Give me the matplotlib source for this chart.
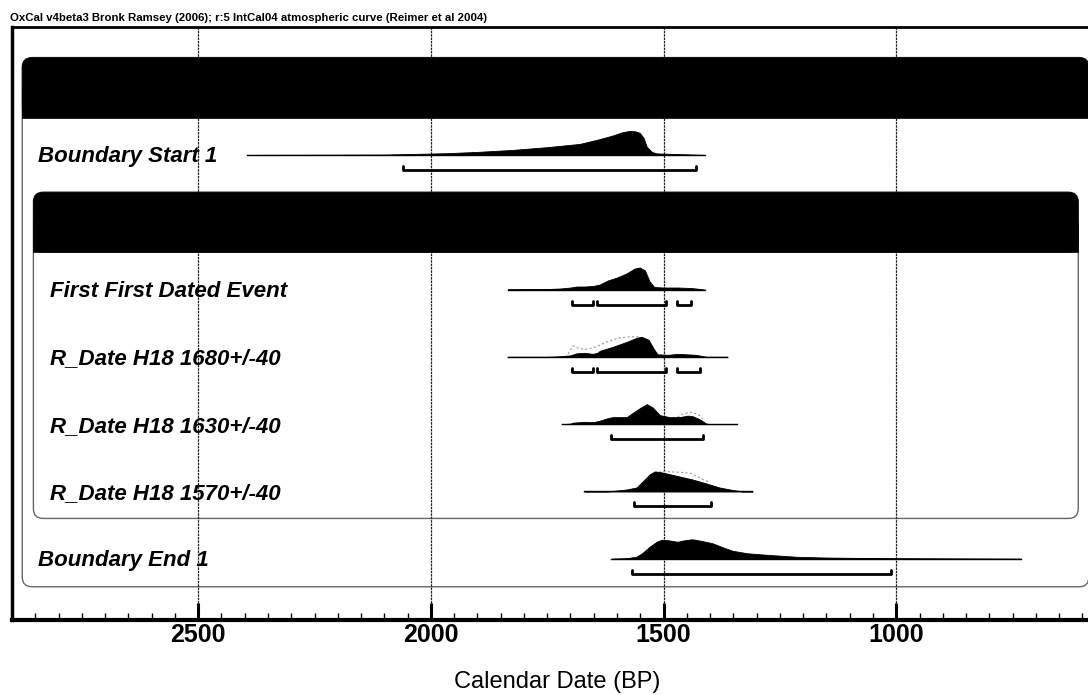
import matplotlib.pyplot as plt
import matplotlib.transforms as mtransforms
from matplotlib.patches import FancyBboxPatch, Rectangle
from matplotlib.ticker import MultipleLocator

plt.rcParams['font.family'] = ['Liberation Sans', 'DejaVu Sans']

TITLE = "OxCal v4beta3 Bronk Ramsey (2006); r:5 IntCal04 atmospheric curve (Reimer et al 2004)"
XLABEL = "Calendar Date (BP)"

# rows, top to bottom (row 1 and -1 are the group headers)
labels = ["Boundary Start 1", "First First Dated Event", "R_Date H18 1680+/-40",
          "R_Date H18 1630+/-40", "R_Date H18 1570+/-40", "Boundary End 1"]
rows = [0, 2, 3, 4, 5, 6]
in_phase = [False, True, True, True, True, False]

# thin baseline of each distribution (cal BP, from -> to)
line_span = [(2395, 1412), (1835, 1412), (1835, 1363), (1719, 1343), (1670, 1309), (1612, 732)]

# posterior probability (arbitrary units)
start_years = [2395, 2100, 1966, 1900, 1824, 1751, 1680, 1644, 1620, 1605, 1590, 1573, 1560,
               1551, 1543, 1536, 1525, 1515, 1480, 1412]
start_prob = [0, 0.3, 1.7, 3, 5, 7.7, 11, 15, 18, 20, 22.5, 24, 23.5, 22, 17, 8, 3, 1.5, 1, 0]

first_years = [1835, 1760, 1723, 1700, 1687, 1670, 1652, 1637, 1620, 1600, 1580, 1562, 1551,
               1540, 1530, 1520, 1500, 1470, 1440, 1412]
first_prob = [0, 0.3, 1, 2, 3, 3, 3.5, 5, 9, 12, 16, 21, 22, 19, 8, 2.5, 2, 2, 1.5, 0]

h1680_years = [1835, 1750, 1723, 1700, 1687, 1670, 1652, 1642, 1637, 1609, 1579, 1558, 1547,
               1532, 1521, 1513, 1490, 1470, 1450, 1430, 1408, 1363]
h1680_prob = [0, 0, 0.5, 1.5, 3.5, 4, 3, 4, 6, 10, 15, 19, 20, 17, 8, 2.5, 2, 3, 2.5, 2, 0, 0]

h1630_years = [1719, 1700, 1695, 1670, 1650, 1637, 1620, 1609, 1579, 1567, 1551, 1536, 1524,
               1508, 1487, 1466, 1448, 1438, 1423, 1408, 1400, 1343]
h1630_prob = [0, 0.5, 1.5, 2.3, 2, 3.5, 6, 7, 7, 11, 16, 20, 17, 9, 7, 7, 8.5, 8, 5, 0.5, 0, 0]

h1570_years = [1670, 1620, 1609, 1579, 1558, 1545, 1530, 1519, 1508, 1494, 1466, 1438, 1408,
               1380, 1352, 1330, 1309]
h1570_prob = [0, 0, 0.5, 2, 4, 10, 17, 20, 19.5, 18, 15, 12, 8, 4, 1.5, 0, 0]

end_years = [1612, 1580, 1558, 1545, 1530, 1515, 1504, 1490, 1470, 1455, 1438, 1420, 1395,
             1370, 1352, 1320, 1279, 1215, 1150, 1036, 900, 732]
end_prob = [0, 0.5, 2, 6, 12, 17, 19, 18.5, 17, 18.5, 19.5, 18, 15.5, 11, 8, 5.5, 4, 2, 1.2, 0.6, 0.3, 0]

post_years = [start_years, first_years, h1680_years, h1630_years, h1570_years, end_years]
post_prob = [start_prob, first_prob, h1680_prob, h1630_prob, h1570_prob, end_prob]

# unmodelled likelihoods (only the parts peeking out above the posterior)
prior_years = {2: [1705, 1695, 1680, 1665, 1645, 1622, 1609, 1594, 1573, 1551],
               3: [1470, 1459, 1440, 1423, 1412],
               4: [1510, 1502, 1480, 1460, 1440, 1420, 1401]}
prior_prob = {2: [3, 11, 8, 7.5, 10, 15, 17, 19, 20, 20],
              3: [7, 10, 12, 9, 3],
              4: [19, 20, 19.5, 19, 18, 13, 9]}

# highest posterior density ranges
hpd_ranges = [[(2060, 1431)],
              [(1697, 1652), (1642, 1494), (1472, 1440)],
              [(1697, 1652), (1642, 1494), (1472, 1421)],
              [(1612, 1416)],
              [(1564, 1397)],
              [(1567, 1011)]]

tick_years = [2500, 2000, 1500, 1000]

# layout (one row = 67.3 px, one px = 2.146 years)
ROW_PX = 67.3
YR_PX = 2.146
PX = 1.0 / ROW_PX

fig = plt.figure(figsize=(10.88, 6.95), dpi=100)
ax = fig.add_axes([12 / 1088, 1 - 620 / 695, 1 - 12 / 1088, (620 - 27) / 695])
ax.set_xlim(2900, 588)
ax.set_ylim(6.91, -1.90)

asp = PX / YR_PX


def group_box(x_left, x_right, head_row, bottom):
    top = head_row - 30 * PX
    w = x_left - x_right
    ax.add_patch(FancyBboxPatch((x_right, top), w, bottom - top,
                                boxstyle="round,pad=0,rounding_size=21", mutation_aspect=asp,
                                fc="white", ec="#666666", lw=1.0, zorder=1))
    ax.add_patch(FancyBboxPatch((x_right, top), w, 60 * PX,
                                boxstyle="round,pad=0,rounding_size=21", mutation_aspect=asp,
                                fc="black", ec="black", lw=0.5, zorder=2))
    ax.add_patch(Rectangle((x_right, head_row), w, 30 * PX, fc="black", ec="black",
                           lw=0.5, zorder=2))


group_box(2878, 586, -1, rows[-1] + 28 * PX)
group_box(2854, 609, 1, rows[4] + 27 * PX)

for xv in tick_years:
    ax.axvline(xv, color="#222222", lw=0.9, ls=(0, (2, 0.7)), zorder=1.5)

for i, r in enumerate(rows):
    a, b = line_span[i]
    ax.plot([a, b], [r, r], color="black", lw=1.0, zorder=3)
    if i in prior_years:
        ax.plot(prior_years[i], [r - p * PX for p in prior_prob[i]],
                color="#9a9a9a", lw=0.8, ls=(0, (2, 2)), zorder=3)
    ys = [r - p * PX for p in post_prob[i]]
    ax.fill_between(post_years[i], r, ys, color="black", lw=0.6, zorder=4)
    yb = r + 15 * PX
    for a, b in hpd_ranges[i]:
        ax.plot([a, a, b, b], [yb - 4 * PX, yb, yb, yb - 4 * PX], color="black", lw=2.0,
                solid_capstyle="round", solid_joinstyle="round", zorder=4)

trans = mtransforms.blended_transform_factory(ax.transAxes, ax.transData)
for i, r in enumerate(rows):
    xl = 0.0353 if in_phase[i] else 0.0242
    ax.text(xl, r + 7.5 * PX, labels[i], transform=trans, fontsize=16, fontweight="bold",
            fontstyle="italic", va="baseline", ha="left", zorder=5)

ax.set_xticks(tick_years, [str(t) for t in tick_years], fontsize=18, fontweight="bold")
ax.xaxis.set_minor_locator(MultipleLocator(50))
ax.tick_params(axis="x", which="major", direction="in", length=12, width=2.2, pad=2)
ax.tick_params(axis="x", which="minor", direction="in", length=5, width=1.0)
ax.set_yticks([])
ax.spines["left"].set_linewidth(2.5)
ax.spines["bottom"].set_linewidth(3.0)
ax.spines["top"].set_linewidth(2.0)
ax.spines["right"].set_visible(False)

fig.text(10 / 1088, 1 - 21 / 695, TITLE, fontsize=8.2, fontweight="bold", va="baseline", ha="left")
fig.text(557 / 1088, 1 - 688 / 695, XLABEL, fontsize=17, ha="center", va="baseline")

fig.savefig("out.png", dpi=100)
